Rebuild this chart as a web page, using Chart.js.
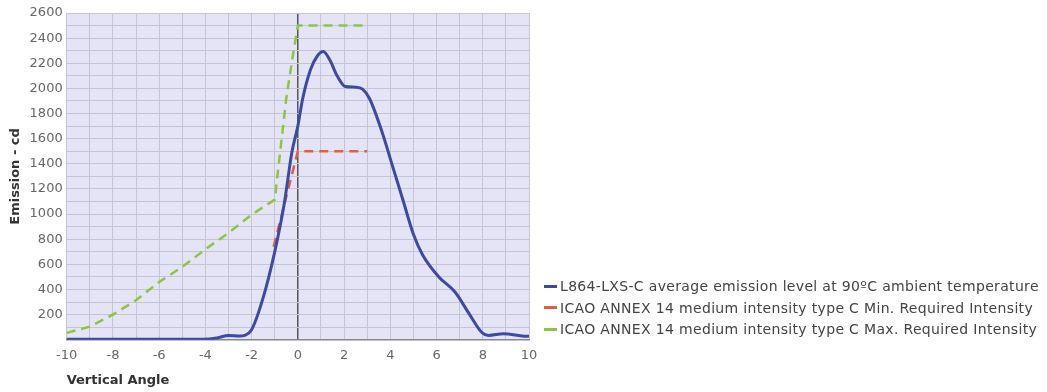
<!DOCTYPE html>
<html>
<head>
<meta charset="utf-8">
<script src="https://cdn.jsdelivr.net/npm/chart.js@4/dist/chart.umd.min.js"></script>
<style>
  html, body { margin: 0; padding: 0; background: #fff; }
  #wrap { width: 1047px; height: 392px; position: relative; }
  #legend {
    position: absolute; left: 544px; top: 276px;
    font-family: "DejaVu Sans", sans-serif; font-size: 14px; letter-spacing: 0.33px;
    color: #444; line-height: 21.5px; white-space: nowrap;
  }
  #legend .sw { display: inline-block; width: 13px; height: 3px; vertical-align: middle; margin-right: 3px; position: relative; top: -1px; }
</style>
</head>
<body>
<div id="wrap">
  <canvas id="emissionChart" width="1047" height="392"></canvas>
  <div id="legend"></div>
</div>
<script>
// Blue curve: measured emission
const emissionAngles = [-10, -4.1, -3.5, -3, -2.5, -2.3, -2, -1.5, -1, -0.6, -0.25, 0, 0.2, 0.55, 0.85, 1.1, 1.4, 1.7, 2.05, 2.5, 2.8, 3.1, 3.65, 4.1, 4.55, 5, 5.4, 6.1, 6.8, 7.4, 7.95, 8.25, 8.9, 9.9, 10];
const emissionValues = [5, 5, 15, 35, 30, 35, 80, 335, 700, 1070, 1500, 1700, 1910, 2150, 2260, 2293, 2220, 2100, 2015, 2010, 1995, 1920, 1650, 1380, 1110, 840, 675, 500, 380, 210, 60, 35, 48, 28, 28];

// Red dashed: min required
const minAngles = [-1.05, 0, 3];
const minValues = [740, 1500, 1500];

// Green dashed: max required
const maxAngles = [-10, -9, -8, -7, -6, -5, -4, -3, -2, -1, -0.5, -0.2, 0, 3];
const maxValues = [55, 105, 200, 315, 460, 580, 720, 850, 995, 1115, 1920, 2280, 2500, 2500];

const xTicks = [-10, -8, -6, -4, -2, 0, 2, 4, 6, 8, 10];
const yTicks = [200, 400, 600, 800, 1000, 1200, 1400, 1600, 1800, 2000, 2200, 2400, 2600];

const seriesNames = [
    'L864-LXS-C average emission level at 90ºC ambient temperature',
    'ICAO ANNEX 14 medium intensity type C Min. Required Intensity',
    'ICAO ANNEX 14 medium intensity type C Max. Required Intensity'
];
const seriesColors = ['#3a4aa6', '#e2603c', '#8cc63e'];

function toPoints(xs, ys) {
    return xs.map((x, i) => ({ x: x, y: ys[i] }));
}

// fills the plot area with the lavender background
const plotBackground = {
    id: 'plotBackground',
    beforeDraw(chart) {
        const { ctx, chartArea } = chart;
        ctx.save();
        ctx.fillStyle = '#e4e4f6';
        ctx.fillRect(chartArea.left, chartArea.top, chartArea.right - chartArea.left, chartArea.bottom - chartArea.top);
        ctx.restore();
    }
};

const fontFamily = '"DejaVu Sans", sans-serif';

const chart = new Chart(document.getElementById('emissionChart'), {
    type: 'line',
    data: {
        datasets: [{
            label: seriesNames[0],
            data: toPoints(emissionAngles, emissionValues),
            borderColor: seriesColors[0],
            borderWidth: 3,
            pointRadius: 0,
            cubicInterpolationMode: 'monotone'
        }, {
            label: seriesNames[1],
            data: toPoints(minAngles, minValues),
            borderColor: seriesColors[1],
            borderWidth: 2.5,
            borderDash: [9, 6],
            pointRadius: 0,
            tension: 0
        }, {
            label: seriesNames[2],
            data: toPoints(maxAngles, maxValues),
            borderColor: seriesColors[2],
            borderWidth: 2.5,
            borderDash: [9, 6],
            pointRadius: 0,
            tension: 0
        }]
    },
    options: {
        responsive: false,
        animation: false,
        layout: { padding: { left: 6, right: 518, top: 13, bottom: 4 } },
        plugins: {
            legend: { display: false },
            tooltip: { enabled: false }
        },
        scales: {
            x: {
                type: 'linear',
                min: -10,
                max: 10,
                afterBuildTicks(axis) {
                    const t = [];
                    for (let v = -10; v <= 10; v++) t.push({ value: v });
                    axis.ticks = t;
                },
                ticks: {
                    autoSkip: false,
                    maxRotation: 0,
                    padding: 8,
                    color: '#666',
                    font: { family: fontFamily, size: 13 },
                    callback: (v) => xTicks.includes(v) ? String(v) : ''
                },
                grid: {
                    color: (c) => c.tick && c.tick.value === 0 ? '#555' : '#c4c4d4',
                    lineWidth: (c) => c.tick && c.tick.value === 0 ? 1.5 : 1,
                    drawTicks: false
                },
                border: { color: '#888', width: 1.5 },
                title: {
                    display: true,
                    text: 'Vertical Angle',
                    align: 'start',
                    color: '#333',
                    padding: { top: 1, bottom: 0 },
                    font: { family: fontFamily, size: 13, weight: 'bold' }
                }
            },
            y: {
                min: 0,
                max: 2600,
                afterBuildTicks(axis) {
                    const t = [];
                    for (let v = 0; v <= 2600; v += 100) t.push({ value: v });
                    axis.ticks = t;
                },
                ticks: {
                    autoSkip: false,
                    padding: 4,
                    color: '#666',
                    font: { family: fontFamily, size: 13 },
                    callback: (v) => yTicks.includes(v) ? String(v) : ''
                },
                grid: {
                    color: '#c4c4d4',
                    drawTicks: false
                },
                border: { display: false },
                title: {
                    display: true,
                    text: 'Emission - cd',
                    color: '#333',
                    padding: { top: 2, bottom: 2 },
                    font: { family: fontFamily, size: 13, weight: 'bold' }
                }
            }
        }
    },
    plugins: [plotBackground]
});

// HTML legend built from the chart's datasets
const legendEl = document.getElementById('legend');
chart.data.datasets.forEach((ds) => {
    const row = document.createElement('div');
    const sw = document.createElement('span');
    sw.className = 'sw';
    sw.style.background = ds.borderColor;
    row.appendChild(sw);
    row.appendChild(document.createTextNode(ds.label));
    legendEl.appendChild(row);
});
</script>
</body>
</html>
